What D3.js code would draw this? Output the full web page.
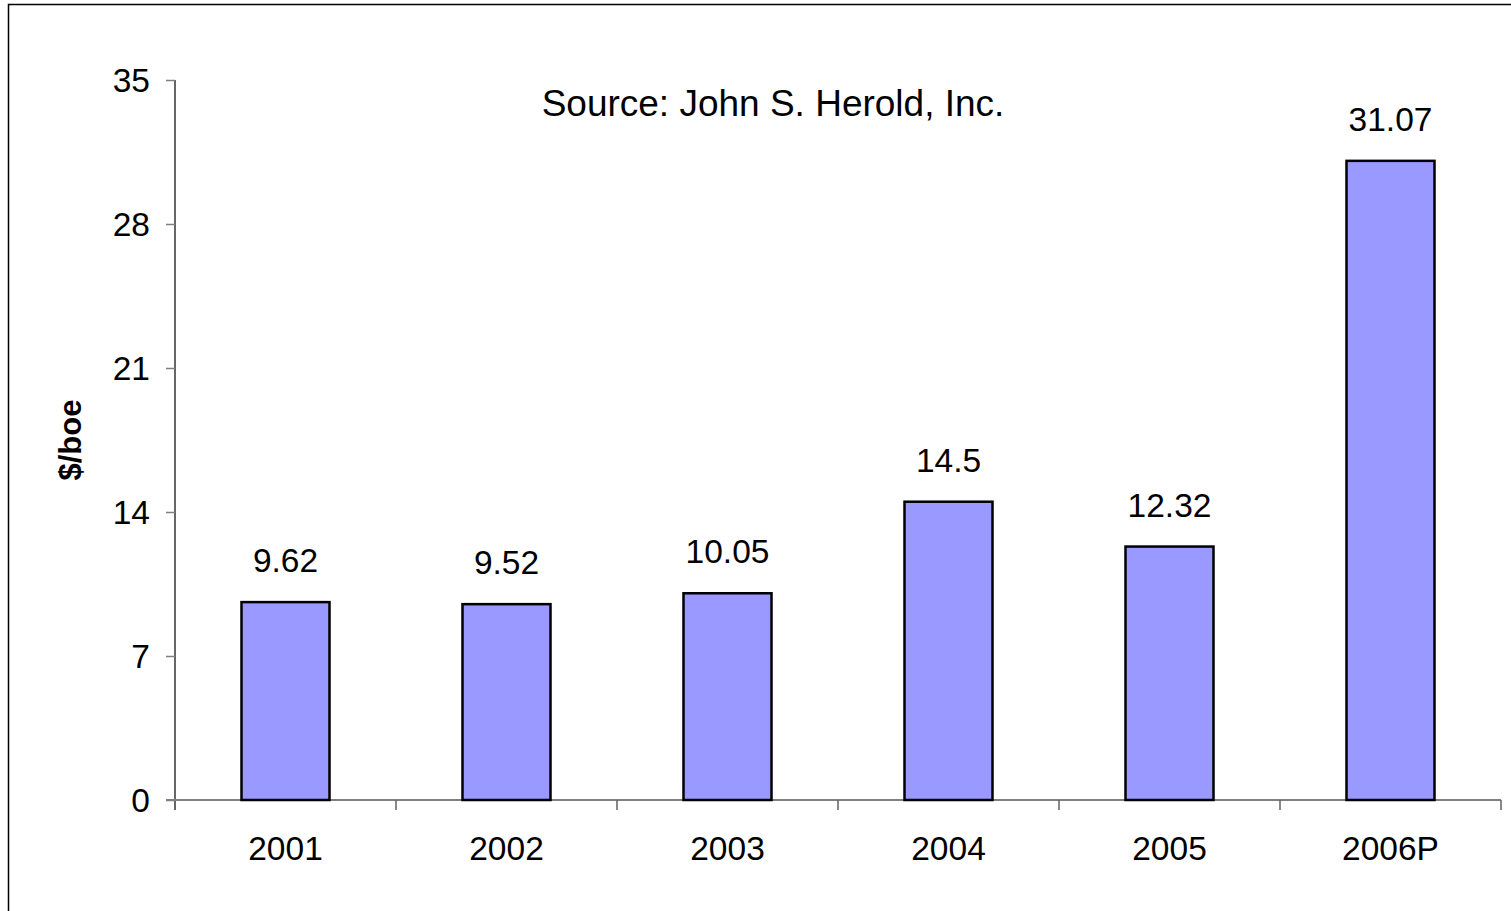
<!DOCTYPE html>
<html>
<head>
<meta charset="utf-8">
<script src="https://cdn.jsdelivr.net/npm/d3@7"></script>
<style>
  body { margin: 0; background: #fff; }
  svg text { font-family: "Liberation Sans", Arial, sans-serif; fill: #000; }
</style>
</head>
<body>
<div id="chart"></div>
<script>
// chart data
const years = ['2001', '2002', '2003', '2004', '2005', '2006P'];
const costs = [9.62, 9.52, 10.05, 14.5, 12.32, 31.07];
const costLabels = ['9.62', '9.52', '10.05', '14.5', '12.32', '31.07'];
const yTicks = [0, 7, 14, 21, 28, 35];

const width = 1511;
const height = 911;
const plot = { left: 175, right: 1501, top: 80, bottom: 800 };
const fs = 33.5;

const svg = d3.select('#chart')
  .append('svg')
  .attr('width', width)
  .attr('height', height);

// outer frame (runs off the right / bottom edge like the source)
svg.append('rect')
  .attr('x', 8.5).attr('y', 4.5)
  .attr('width', 1600).attr('height', 1000)
  .attr('fill', 'none')
  .attr('stroke', '#000')
  .attr('stroke-width', 1.5);

const x = d3.scaleBand()
  .domain(years)
  .range([plot.left, plot.right])
  .paddingInner(0)
  .paddingOuter(0);

const y = d3.scaleLinear()
  .domain([0, 35])
  .range([plot.bottom, plot.top]);

// y axis
const yAxis = svg.append('g')
  .attr('transform', `translate(${plot.left},0)`)
  .call(d3.axisLeft(y).tickValues(yTicks).tickSize(9).tickPadding(16));
yAxis.select('.domain').attr('stroke', '#000').attr('stroke-width', 1.2)
  .attr('d', `M0,${plot.top}V${plot.bottom + 10}`);
yAxis.selectAll('.tick line').attr('stroke', '#808080').attr('stroke-width', 1.5);
yAxis.selectAll('.tick text').attr('font-size', fs).attr('dy', '0.35em');

// x axis
const xAxis = svg.append('g')
  .attr('transform', `translate(0,${plot.bottom})`);
xAxis.append('line')
  .attr('x1', plot.left - 9).attr('x2', plot.right)
  .attr('y1', 0).attr('y2', 0)
  .attr('stroke', '#808080').attr('stroke-width', 2);
const edges = years.map(d => x(d)).concat([x(years[years.length - 1]) + x.bandwidth()]);
xAxis.selectAll('line.tick')
  .data(edges.slice(1))
  .enter()
  .append('line')
  .attr('class', 'tick')
  .attr('x1', d => d).attr('x2', d => d)
  .attr('y1', 0).attr('y2', 10)
  .attr('stroke', '#606060').attr('stroke-width', 1.5);
xAxis.selectAll('text')
  .data(years)
  .enter()
  .append('text')
  .attr('x', d => x(d) + x.bandwidth() / 2)
  .attr('y', 60)
  .attr('text-anchor', 'middle')
  .attr('font-size', fs)
  .text(d => d);

// bars
const barW = 88;
svg.selectAll('rect.bar')
  .data(costs)
  .enter()
  .append('rect')
  .attr('class', 'bar')
  .attr('x', (d, i) => x(years[i]) + x.bandwidth() / 2 - barW / 2)
  .attr('y', d => y(d))
  .attr('width', barW)
  .attr('height', d => y(0) - y(d))
  .attr('fill', '#9999FF')
  .attr('stroke', '#000')
  .attr('stroke-width', 2.5);

// value labels
svg.selectAll('text.val')
  .data(costs)
  .enter()
  .append('text')
  .attr('class', 'val')
  .attr('x', (d, i) => x(years[i]) + x.bandwidth() / 2)
  .attr('y', d => y(d) - 30)
  .attr('text-anchor', 'middle')
  .attr('font-size', fs)
  .text((d, i) => costLabels[i]);

// source note
svg.append('text')
  .attr('x', 773)
  .attr('y', 116)
  .attr('text-anchor', 'middle')
  .attr('font-size', 37)
  .text('Source: John S. Herold, Inc.');

// y axis title
svg.append('text')
  .attr('transform', 'translate(81,440) rotate(-90)')
  .attr('text-anchor', 'middle')
  .attr('font-size', 31)
  .attr('font-weight', 'bold')
  .text('$/boe');
</script>
</body>
</html>
